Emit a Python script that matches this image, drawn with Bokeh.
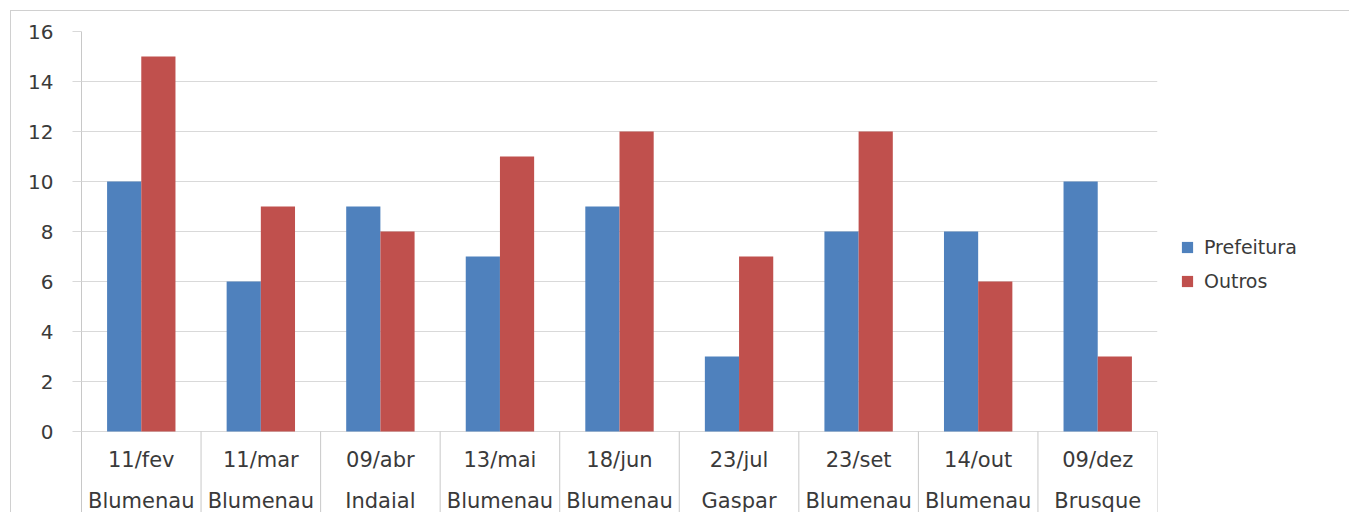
from bokeh.plotting import figure
from bokeh.models import Range1d, FactorRange, FixedTicker, Legend, ColumnDataSource
from bokeh.transform import dodge
from bokeh.core.properties import value
from bokeh.embed import file_html
from bokeh.resources import INLINE

dates = ["11/fev", "11/mar", "09/abr", "13/mai", "18/jun", "23/jul", "23/set", "14/out", "09/dez"]
cities = ["Blumenau", "Blumenau", "Indaial", "Blumenau", "Blumenau", "Gaspar", "Blumenau", "Blumenau", "Brusque"]
prefeitura = [10, 6, 9, 7, 9, 3, 8, 8, 10]
outros = [15, 9, 8, 11, 12, 7, 12, 6, 3]
y_ticks = [0, 2, 4, 6, 8, 10, 12, 14, 16]

BLUE = "#4F81BD"
RED = "#C0504D"
GRID = "#d9d9d9"
TXT = "#3a3a3a"
Y_BOTTOM = -3.24

src = ColumnDataSource(dict(date=dates, city=cities, pref=prefeitura, out=outros))

p = figure(frame_width=1076, frame_height=481,
           x_range=FactorRange(*dates, range_padding=0),
           y_range=Range1d(Y_BOTTOM, 16),
           output_backend="svg", toolbar_location=None,
           x_axis_location=None,
           min_border_left=81, min_border_top=31, min_border_right=0, min_border_bottom=0)

r1 = p.vbar(x=dodge("date", -0.143, range=p.x_range), top="pref", width=0.286,
            source=src, fill_color=BLUE, line_color=None)
r2 = p.vbar(x=dodge("date", 0.143, range=p.x_range), top="out", width=0.286,
            source=src, fill_color=RED, line_color=None)

# category dividers below the axis
bounds = list(range(len(dates) + 1))
p.segment(x0=bounds, y0=[0] * len(bounds), x1=bounds, y1=[Y_BOTTOM] * len(bounds),
          line_color="#c8c8c8", line_width=1)

# two-level category labels
p.text(x="date", y=-1.12, text="date", source=src, text_align="center", text_baseline="middle",
       text_font=value("DejaVu Sans"), text_font_size="21px", text_color=TXT)
p.text(x="date", y=-2.76, text="city", source=src, text_align="center", text_baseline="middle",
       text_font=value("DejaVu Sans"), text_font_size="21px", text_color=TXT)

p.xgrid.visible = False
p.ygrid.ticker = FixedTicker(ticks=y_ticks)
p.ygrid.grid_line_color = GRID
p.ygrid.grid_line_width = 1

ax = p.yaxis[0]
ax.ticker = FixedTicker(ticks=y_ticks)
ax.major_tick_out = 9
ax.major_tick_in = 0
ax.major_tick_line_color = GRID
ax.minor_tick_line_color = None
ax.axis_line_color = "#c8c8c8"
ax.major_label_standoff = 19
ax.major_label_text_font = "DejaVu Sans"
ax.major_label_text_font_size = "20px"
ax.major_label_text_color = TXT

p.outline_line_color = None

legend = Legend(items=[("Prefeitura", [r1]), ("Outros", [r2])], location=(23, 220))
legend.margin = 0
legend.padding = 10
legend.border_line_color = None
legend.background_fill_alpha = 0
legend.glyph_width = 14
legend.glyph_height = 14
legend.label_height = 20
legend.spacing = 12
legend.label_standoff = 10
legend.label_text_font = "DejaVu Sans"
legend.label_text_font_size = "19px"
legend.label_text_color = TXT
p.add_layout(legend, "right")

# light outer chart border (top and left edges, as in the reference)
p.border_fill_alpha = 0
p.styles = {
    "background": ("linear-gradient(#d0d0d0, #d0d0d0) 10px 10px / 1px 100% no-repeat, "
                   "linear-gradient(#d0d0d0, #d0d0d0) 10px 10px / 100% 1px no-repeat, #ffffff"),
}

open("out.html", "w").write(file_html(p, INLINE))
